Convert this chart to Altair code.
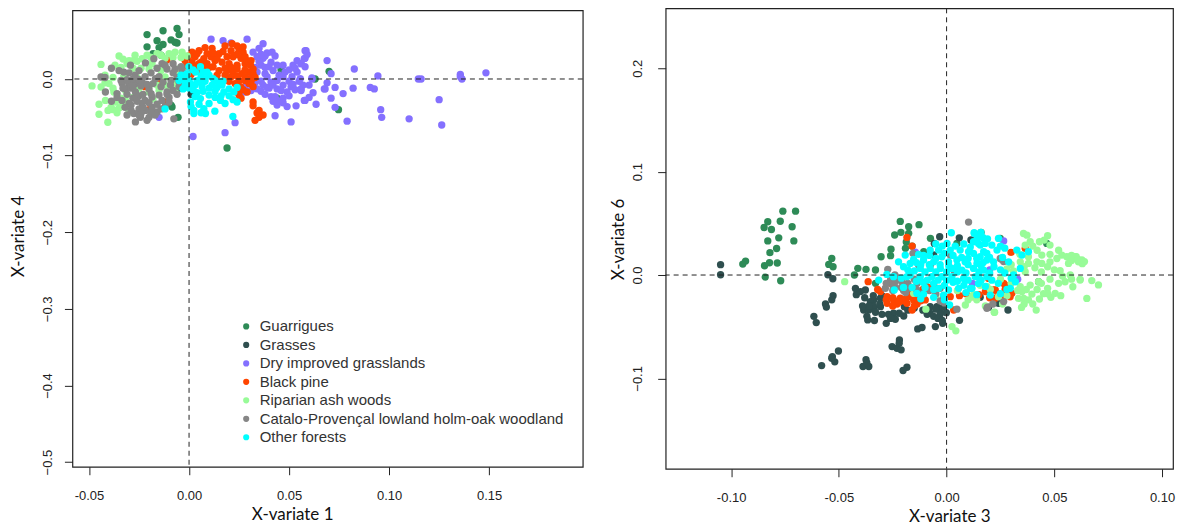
import altair as alt
import pandas as pd

NAMES = ["Guarrigues", "Grasses", "Dry improved grasslands", "Black pine", "Riparian ash woods",
         "Catalo-Provençal lowland holm-oak woodland", "Other forests"]
COLORS = ["#2E8B57", "#2F4F4F", "#8470FF", "#FF4500", "#98FB98", "#868686", "#00FFFF"]
XTICKS_L = [-0.05, 0.0, 0.05, 0.10, 0.15]
YTICKS_L = [-0.5, -0.4, -0.3, -0.2, -0.1, 0.0]
XTICKS_R = [-0.10, -0.05, 0.0, 0.05, 0.10]
YTICKS_R = [-0.1, 0.0, 0.1, 0.2]

# Left panel: (X-variate 1, X-variate 4), in thousandths
L_GUARRIGUES = [(-21,58),(-13,63),(-6,66),(-5,58),(-16,50),(-9,51),(-7,48),(-6,47),(-13,45),(-21,42),(-15,41),
    (-18,33),(-14,31),(-8.5,-36.5),(-5.5,-50),(19,-90),(70,10),(63,0),(-9,-34),(74.7,-40),(46,12),(44,-25)]
L_GRASSES = [(2,-16),(-1,-8),(1,-20),(-4,-12)]
L_DRY = [(11,52),(17,50),(21,47),(29,52),(37,46),(35,40),(32,35),(39,34),(41.5,35),(34,29),(37,27),(41,22),(36,18),
    (34,9),(38,7),(42,11),(47,18),(52,18),(56,20),(58.5,37),(58,27),(54,9),(51.5,3),(47,3),(44,-2),(41,-4),(37,-8),
    (34,-13),(31,-15),(28,-17),(47,-8),(51,-10),(56,-13),(60,-8),(49,-17),(43,-23),(41,-23),(44,-34),(49,-36),
    (53.5,-35),(43,-48),(51,-56),(58,-28),(63.5,-33),(69,24),(71,7),(61.5,0),(68,-13),(73,-11),(71,-25),(77,-19),
    (73,-37),(79,-55),(23,-57),(18,-70),(2,-75),(-15,-50),(58,37),(57.6,26.6),(56,20),(58,16),(55.6,0.5),(61.4,1.3),
    (57,-8),(56,-15),(60,-24),(57.6,-28),(69,-5),(67.6,-13),(82.6,13),(82,-12),(90.6,-11),(92.6,-13),(94.4,4),
    (95.8,-40),(96.3,-50),(110,-52),(114.6,0),(116,0),(125,-27),(126.3,-60),(135.6,6),(135.6,3),(136.4,0),(148.4,8),
    (40,-12),(36,-3),(45,5),(50,-3),(33,-5),(47,-25),(53,-14),(38,15),
    (35,23),(33,15),(38,30),(43,30),(36,32),(40,16),(44,18),(31,5),(28,-10),(36,-16),(39,-11),(44,-13),(46,-15),(39,3),
    (42,-8),(50,-22),(44,-28),(47,-31),(53,14),(54,24),(59,32),(52,-7),(55,-3),(48,9),(50,12),(62,-18),(38,-20),(42,-29)]
L_PINE = [(1.5,35),(5,37),(8,41),(11.5,40),(15,33),(21.5,46),(21,37),(25,37),(27,35),(19,29),(22,29),(26,27),(28,29),
    (3,29),(7.4,26.5),(11,29),(1.5,22),(5,20),(1.5,11),(4,11),(9,20),(16.5,22),(20,20),(24,18),(28,20),(30.7,18),
    (15,11),(19,11),(22,9),(26.5,7),(30,9),(32,7),(25,-2),(28,-2),(30.7,0.5),(25.7,-10),(30,-6),(25,-21),(32,-30),
    (35,-41),(37,-47),(35,-50),(33,-54),(34,-44),(-22,-10),(-15,-5),(-12,-30),(-20,-40),(-24,-42),(-11,25),(18,14),(13,24),
    (3,17),(7,14),(12,16),(14,27),(17,36),(18,43),(24,43),(27,42),(24,32),(29,24),(32,13),(33,2),(28,12),(24,13),(21,15),
    (18,5),(21,3),(24,4),(28,3),(31,-3),(27,-14),(24,-17),(29,-17),(26,-25),(4,33),(9,33),(12,34),(6,22),(-1,17),(-2,24),
    (0,30),(1,6),(14,5),(32,-10),(23,-6),(20,-3),(10,15),(31,24),(32,-35),(35,-48)]
L_RIPARIAN = [(-35,30),(-44,19),(-48.5,-9),(-44,-10.5),(-45,-33),(-45,-46),(-40.6,-56.5),(-40.5,-41),(-39,-37),
    (-35,-38),(-31,20),(-27,31),(-23.5,26.5),(-21,31),(-30,24),(-28,24),(-14,31),(-10,33),(-7,35),(-3.5,35),
    (-18.5,20),(-20,13),(-14,11),(-12,2.6),(-40,-6),(-37.6,-17),(-36.8,-30),(-41.8,-28),(-31.8,-15),(-31.8,-28),
    (-28,-24),(-20,-17),(-15,-15),(-10,-10.5),(-7,-13),(-5,13),(-32.6,4.8),(-38,2),(-26,2),(-16,-8),(-24,14),
    (-42,-5),(-38,-12),(-34,-25),(-38,-40),(-34,-36),(-42,5),(-37,18),(-33,26),(-26,23),(-19,28),(-16,33),(-12,27),(-8,28),
    (-4,28),(-1,30),(-28,14),(-34,15),(-12,-8),(-18,-26),(-8,-6),(-6,5),(-25,-12),(-36,-44),(-30,-43)]
L_GRAY = [(-44,2.6),(-38.8,14),(-35,11),(-32.6,9),(-41.8,-17),(-36,-19),(-38.8,-29),(-29.3,18),(-25,11),(-21.8,21),
    (-17.6,26.5),(-13.5,20),(-11,13),(-7,13),(-3.5,11),(-33.4,-6),(-30,-6),(-26.8,-6),(-23.5,-4),(-31.8,-13),
    (-26.8,-17),(-33.5,-28),(-30,-32),(-31,-47),(-26.8,-56),(-24.3,-50),(-21.8,-41),(-18.5,-37),(-16,-43),(-20,-50),
    (-25,-39),(-27.6,-45),(-23.5,-32),(-18.5,-23.5),(-13.5,-28),(-11,-17),(-9.3,-8),(-5,-4),(-2.6,7),(-16.8,0.4),
    (-20,-13),(-14,-10),(-7.6,-52),(-15,3),(-42,2),(-28,-25),(-22,-28),(-25,-22),(-29,-12),(-6,-20),(-3,-3),(-10,-24),
    (-34,-2),(-31,-1),(-28,0),(-25,-1),(-22,3),(-19,8),(-16,14),(-12,18),(-8,20),(-4,16),(-27,5),(-30,8),(-33,-12),(-28,-10),
    (-24,-9),(-21,-7),(-18,-6),(-13,-4),(-9,-2),(-6,2),(-26,-24),(-23,-20),(-19,-19),(-15,-21),(-11,-20),(-8,-15),(-5,-10),
    (-31,-20),(-29,-34),(-26,-29),(-20,-31),(-16,-33),(-12,-36),(-23,-37),(-19,-44),(-14,-39),(-29,-41),(-24,-45),(-21,-54),
    (-25,-47),(-10,-30),(-36,-24),(-32,-37),(-17,-47),(-8,8)]
L_CYAN = [(-0.1,16),(-1,7),(3.2,9),(5.7,16),(7,9),(9,9),(12,0.5),(8,0.5),(4,-2),(0.7,-6),(-1.8,-4),(-1.8,5),(-4,5),
    (3,-8),(6.5,-10),(11.5,-8),(16.5,-8),(20,-13),(17.4,-17),(22.4,-17),(10,-21),(5.7,-25.6),(0.7,-30),(10,-32),
    (15.7,-28),(18,-32),(24,-30),(7.4,-38.7),(2.4,-41),(8.2,-45),(12.9,-42),(21.9,-49),(2.4,-45),(-12,-39),
    (0,-12),(2,-14),(5,-4),(8,-3),(10,5),(13,-2),(15,-4),(2,12),(6,4),(4,-18),(7,-16),(-2,-9),(-5,-2),(-3,-13),(13,-16),
    (16,-22),(20,-22),(13,-24),(10,-12),(14,-11),(24,-11),(22,-27),(3,-23),(1,-36),(5,-33),(6,-44),(0,-2),(-3,3),(17,-3)]

# Right panel: (X-variate 3, X-variate 6), in thousandths
R_GUARRIGUES = [(-76,61.8),(-70.1,61.8),(-83,51.5),(-77.2,52),(-84.7,46),(-81.3,44),(-71.7,46.7),(-83,33),(-77.9,36),
    (-70.9,33),(-78.9,25.7),(-82,21.6),(-93.3,13.5),(-94.6,10.6),(-82.2,11.9),(-78.6,11.6),(-84.5,9),(-84.2,-2),
    (-77,-5.5),(-53.3,16),(-54.7,10.3),(-52.7,8),(-21.5,51.9),(-12.8,48.7),(-17.6,46.7),(-24.1,38.7),(-21.2,41.3),
    (-17.6,40.3),(-18.7,32),(-19.1,25.8),(-16,28),(-25.8,25),(-26,18.7),(-30.4,17.7),(-41.2,6.5),(-37.4,5.5),
    (-33,4.9),(-42.8,0),(-33,-8),(-7.5,35.5),(-10.6,22.6),(16,41.3),(4.8,30.6),(24.9,35.5),(42.7,-6.4),(46.5,30.6)]
R_GRASSES = [(-104.9,10),(-104.9,0.3),(-55.1,0.3),(-52.8,-3.6),(-52.7,-20),(-53.3,-24),(-56.2,-28),(-55.8,-31),
    (-61.6,-40),(-60.5,-46),(-50.2,-73.5),(-53.3,-80.5),(-51.9,-84),(-58,-87.6),(-42.3,-13),(-41.9,-19),(-37.7,-14.5),
    (-30.7,-22.5),(-33.8,-24),(-35.4,-25.7),(-38.5,-33.8),(-36.1,-33.8),(-33.8,-32),(-30.7,-30.6),(-36.6,-43.4),
    (-33.5,-44),(-28,-46.7),(-24.6,-37),(-23.8,-42.8),(-19.9,-39.6),(-19.6,-30.6),(-7.6,-30.6),(-4.5,-30.6),(-1.4,-30.6),
    (-7.6,-37),(-2.9,-35.4),(-0.1,-36.4),(-1.8,-46.7),(-5.2,-49.9),(-13.4,-52.1),(-11.4,-50.8),(6,-43.8),(-21.9,-62.8),
    (-25.3,-69.2),(-23,-70.8),(-21.1,-72.4),(-37.4,-82),(-38.8,-88.5),(-36.1,-88.5),(-18.4,-89.2),(-20.2,-92.4),
    (-3.2,37),(-5.7,30.6),(5.9,36),(11.3,33.9),(-6,19.4),(24.1,-27.3),(19.5,-31.2),(28.5,-33.8),(15.6,-21.5),
    (-34,-30),(-31,-28),(-36,-30),(-33,-36),(-30,-38),(-37,-40),(-27,-38),(-22,-37),(-26,-42),(-18,-34),(-15,-32),(-11,-34),
    (-9,-34),(-5,-33),(-3,-38),(-6,-40),(-9,-38),(-4,-42),(-40,-16),(-38,-22),(-34,-20),(-2,-44),(-30,-20),(-39,-30),(-53,-79),
    (-22,-66),(-37,-85)]
R_DRY = [(26.5,33),(33,-4),(-14.5,22),(12,-8),(20,5)]
R_PINE = [(-36.4,-6.4),(-30.7,-16),(-27.6,-20.9),(-27.6,-27.3),(-24.6,-24.1),(-21.5,-22.5),(-17.6,-20.9),(-15.3,-24.1),
    (-13.7,-28),(-18.4,-27.3),(-16,-33.8),(-9.1,-11.2),(-7.6,-12.9),(-9.9,-24.1),(-18.4,36.4),(-16,28),(1.7,-20.9),
    (3.3,-33.8),(21.8,-14.5),(22.6,-22.5),(26.5,-8),(28.8,-14.5),(30.3,-17.7),(36.5,25.8),(11.8,-20.9),(-26,-8),
    (29.9,21.9),(22.6,-14.5),(27.2,-9.7),(27.2,-14),(29.5,-21),(19.5,-3.3),(-20,-25),(-23,-28),
    (-25,-22),(-22,-26),(-19,-23),(-14,-22),(-11,-20),(-12,-25),(-25,-30),(-28,-24),(-32,-14),(-15,-30),(-17,-17),(-6,-9),
    (-11,-14),(24,-18),(18,-16),(15,-19),(20,-22),(27,-20),(9,-18),(6,-20)]
R_RIPARIAN = [(35.7,40.2),(37.3,38.6),(46.9,38),(45.3,33.8),(43.1,32.2),(38.8,32.2),(36.5,29),(48,29),(44.2,19.3),
    (38,17.7),(34.2,12.8),(38,11.2),(41.9,12.8),(44.2,11.2),(48,12.8),(51.2,16),(53.5,19.3),(55.8,17.7),(60.2,17.7),
    (61.2,12.8),(56.6,11.2),(52.7,4.1),(46.9,8),(36.5,3.2),(62,-4.2),(53.8,-1),(57.4,0),(52,-8),(55,-6.5),(58.6,-11.3),
    (42.7,-6.5),(38.8,-9.7),(34.2,-11.3),(46.9,-12.9),(35,-16),(39.6,-18.4),(50.4,-17.7),(48.4,-21.6),(33.4,-22.6),
    (35.8,-22.6),(43.1,-23.2),(65.1,-22.6),(34.8,-31.3),(41.6,-33.9),(22.1,-36.1),(24.1,-21),(20.3,-14),(15.6,-10),
    (11.8,-21),(70.5,-9.6),(67.4,-5.4),(62,-4.8),(62.8,14.5),(59.7,17.7),(-47.3,-6.4),(2.5,-49.9),(4.3,-54),(22.3,-36),
    (-9.6,-33),(8.7,-29),(12.5,-19),(-15.3,-17.7),(18.7,-11),(28,6),(25,-4),
    (30,-8),(33,-15),(37,-14),(42,-14),(45,-18),(38,-24),(44,-8),(48,-4),(50,5),(41,7),(44,3),(36,8),(30,10),(31,4),(28,-20),
    (26,-28),(18,-30),(14,-24),(10,-24),(5,-15),(-5,-20),(34,20),(40,28),(52,24),(58,14),(63,11),(61,15),(64,13),(58,19),
    (48,20),(42,24),(36,-28),(40,-28),(47,-18),(53,-20),(58,-4)]
R_GRAY = [(10.2,51.2),(-27.3,5.5),(-15.6,21),(-26,-4.8),(-28.4,-12.8),(-23.8,-6.4),(-20.7,-6.4),(-17.6,-12.8),(-13.7,-8),
    (-11.4,-17.7),(-3,-12.9),(-1.4,-20.9),(1.7,19.4),(3.3,4.9),(4.8,-33),(19,-31),(21.5,-28),(26.5,-25.7),(24.9,16),
    (26.5,13),(25.7,15),(18.7,-32.2),(-13,9.7),(-7.5,9.7),(-24,-12),(-20,-15),
    (-25,-10),(-22,-4),(-18,-8),(-15,-4),(-21,-12),(-25,-15),(-19,-17),(-14,-14),(-8,-15),(-5,-18),(-28,-8),(-24,0),(-3,-25),(-1,-27)]
R_CYAN = [(2.2,40.9),(15.9,41.2),(12.8,40.9),(14.4,36.4),(16.8,36.4),(0.2,30.6),(12.5,32.2),(14.8,30.6),(17.9,30.6),
    (-3.7,24.1),(-7.6,24.1),(-10.7,19),(-15.3,15),(-19.2,19.3),(-16.9,11.2),(-10.7,14.5),(-6,12.8),(-2.2,17.7),(1.7,24.1),
    (6.3,24.1),(10.2,22.5),(12.5,20.9),(17.2,22.5),(18.7,14.5),(4.8,14.5),(0.9,12.8),(8.6,12.8),(14.1,11.2),(-12.2,6.4),
    (-7.6,6.4),(-2.9,6.4),(2.5,6.4),(7.1,4.8),(12.5,6.4),(17.2,4.8),(-16.9,0),(-12.2,-1.6),(-6.8,-1.6),(-2.2,-1.6),
    (2.5,-1.6),(7.9,-3.3),(13.3,-1.6),(18.7,-1.6),(-18.4,-1.6),(-24.6,-1.6),(-31.5,-4.9),(-27.7,0.6),(-22.3,12.8),
    (-24.3,-14.5),(-13.8,-17.7),(-10.7,-18.4),(-6,-21.6),(-3.7,-12.9),(0.9,-14.5),(5.6,-12.9),(11,-12.9),(14.8,-8.1),
    (3,-7),(-6,-8),(-11,-7),(-1.4,-19.4),(1.4,-29),(12.9,40.2),(24.1,35.4),(15.6,29),(21,29),(23.4,24.1),(18.7,20.9),
    (15.6,17.7),(32.6,24.1),(38,22.5),(35,19.3),(28.8,12.8),(21.8,12.8),(34.2,6.4),(31.1,0),(31.9,-6.5),(29.6,-12.9),
    (20.3,-19.4),(11.8,-12.9),(14.9,-1.6),
    (-14,12),(-12,10),(-8,10),(-5,16),(-1,21),(3,19),(7,17),(10,16),(14,16),(17,12),(-15,4),(-10,3),(-5,3),(0,3),(5,3),(9,2),
    (15,3),(20,2),(-14,-6),(-9,-5),(-4,-5),(0,-5),(5,-6),(10,-5),(16,-5),(21,-5),(-18,5),(-20,8),(-10,-12),(-6,-14),(-1,-10),
    (8,-10),(18,-11),(24,-8),(-3,10),(1,9),(5,9),(10,10),(16,9),(22,8),(25,5),(26,17),(20,17),(-8,19),(-13,20),(4,28),(8,30),
    (11,27),(-2,28),(27,2),(-21,-3),(-16,-12),(-1,-24),(9,-17),(14,-19),(25,-18),(-12,-23),(-20,-12),(30,-3),(27,26),(19,35),
    (25,28),(-5,30),(28,-14)]


def frame(groups):
    rows = []
    for name, pts in zip(NAMES, groups):
        for x, y in pts:
            rows.append({"s": name, "x": x / 1000, "y": y / 1000, "o": NAMES.index(name)})
    return pd.DataFrame(rows)


def panel(groups, xdom, ydom, xticks, yticks, xfmt, yfmt, xtitle, ytitle, w, h, legend, xtx, yty, lp, tp):
    ax = dict(ticks=True, tickSize=8, tickColor="#222", domain=False, grid=False, labelFont="Liberation Sans",
              labelFontSize=13, labelColor="#222", titleFont="Lato", titleFontSize=17, titleFontWeight="normal",
              titleColor="#111")
    pts = alt.Chart(frame(groups)).mark_circle(size=54, opacity=1).encode(
        x=alt.X("x:Q", scale=alt.Scale(domain=xdom, nice=False, zero=False),
                axis=alt.Axis(values=xticks, title=xtitle, labelExpr=f"replace(format(datum.value,'{xfmt}'),'−','-')",
                              labelPadding=15, titlePadding=4, titleX=xtx, **ax)),
        y=alt.Y("y:Q", scale=alt.Scale(domain=ydom, nice=False, zero=False),
                axis=alt.Axis(values=yticks, title=ytitle, format=yfmt, labelAngle=270, labelAlign="center",
                              labelBaseline="bottom", labelPadding=lp, titlePadding=tp, titleY=yty, **ax)),
        color=alt.Color("s:N", scale=alt.Scale(domain=NAMES, range=COLORS), legend=legend),
        order=alt.Order("o:Q"),
    )
    v = alt.Chart(pd.DataFrame({"z": [0.0]})).mark_rule(color="#222", strokeDash=[5, 4], strokeWidth=1).encode(x="z:Q")
    hh = alt.Chart(pd.DataFrame({"z": [0.0]})).mark_rule(color="#222", strokeDash=[5, 4], strokeWidth=1).encode(y="z:Q")
    return alt.layer(pts, v, hh).properties(width=w, height=h)


legend = alt.Legend(orient="none", legendX=166.5, legendY=309, title=None, symbolType="circle", symbolSize=38,
                    symbolStrokeWidth=0, labelFont="Liberation Sans", labelFontSize=15, labelColor="#333",
                    rowPadding=2.5, labelOffset=6, symbolOffset=0, padding=0, labelLimit=400)

left = panel([L_GUARRIGUES, L_GRASSES, L_DRY, L_PINE, L_RIPARIAN, L_GRAY, L_CYAN],
             [-0.0583, 0.1968], [-0.506, 0.0896], XTICKS_L, YTICKS_L, ".2f", ".1f", "X-variate 1", "X-variate 4",
             511, 457, legend, 220, 226, 10, 14)
right = panel([R_GUARRIGUES, R_GRASSES, R_DRY, R_PINE, R_RIPARIAN, R_GRAY, R_CYAN],
              [-0.1304, 0.1051], [-0.1874, 0.258], XTICKS_R, YTICKS_R, ".2f", ".1f", "X-variate 3", "X-variate 6",
              508, 461, None, 284, 231, 13, 4)

chart = alt.hconcat(left, right, spacing=83, center=True, bounds="flush").resolve_scale(color="independent").properties(
    padding={"left": 0.5, "top": -2, "right": 0, "bottom": 0}
).configure_view(stroke="#222", strokeWidth=1.2)

chart.save("out.html", embed_options={"renderer": "svg", "actions": False})
